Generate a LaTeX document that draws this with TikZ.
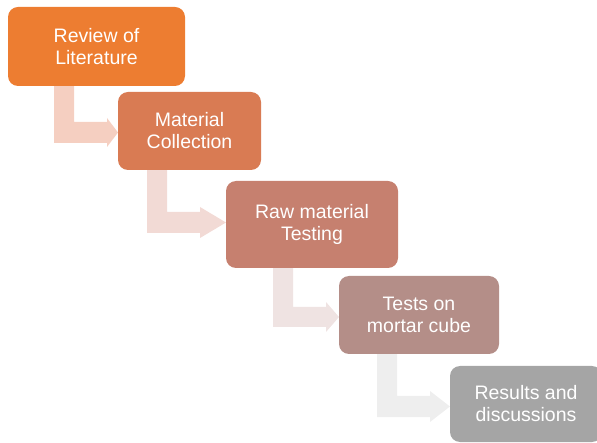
\documentclass[tikz,border=0pt]{standalone}
\usepackage{fontspec}
\setmainfont{Liberation Sans}
\definecolor{c1}{HTML}{ED7D31}
\definecolor{c2}{HTML}{D97B53}
\definecolor{c3}{HTML}{C6806F}
\definecolor{c4}{HTML}{B48E88}
\definecolor{c5}{HTML}{A5A5A5}
\definecolor{a1}{HTML}{F5CFC1}
\definecolor{a2}{HTML}{F2DAD5}
\definecolor{a3}{HTML}{EFE3E2}
\definecolor{a4}{HTML}{EEEEEE}
\tikzset{
  stepbox/.style={rounded corners=10pt, inner sep=0pt, text=white, align=center,
    font=\fontsize{19.5}{22}\selectfont},
}
\begin{document}
\begin{tikzpicture}[x=1pt,y=-1pt]
\useasboundingbox (0,0) rectangle (597,443);
% bent arrows
\fill[a1] (54,86) -- (74,86) -- (74,122) -- (107,122) -- (107,118) -- (118,132.5) -- (107,147) -- (107,143) -- (54,143) -- cycle;
\fill[a2] (147,170) -- (167,170) -- (167,212) -- (200,212) -- (200,207) -- (226,222.5) -- (200,238) -- (200,233) -- (147,233) -- cycle;
\fill[a3] (273,268) -- (293,268) -- (293,307) -- (326,307) -- (326,302) -- (339,317) -- (326,332) -- (326,327) -- (273,327) -- cycle;
\fill[a4] (377,354) -- (397,354) -- (397,396) -- (430,396) -- (430,391) -- (450,406.5) -- (430,422) -- (430,417) -- (377,417) -- cycle;
% boxes
\node[stepbox, fill=c1, minimum width=177pt, minimum height=79pt] (b1) at (96.5,46.5) {Review of\\Literature};
\node[stepbox, fill=c2, minimum width=143pt, minimum height=78pt] (b2) at (189.5,131) {Material\\Collection};
\node[stepbox, fill=c3, minimum width=172pt, minimum height=87pt] (b3) at (312,224.5) {Raw material\\Testing};
\node[stepbox, fill=c4, minimum width=160pt, minimum height=78pt] (b4) at (419,315) {Tests on\\mortar cube};
\node[stepbox, fill=c5, minimum width=152pt, minimum height=76pt] (b5) at (526,404) {Results and\\discussions};
\end{tikzpicture}
\end{document}
